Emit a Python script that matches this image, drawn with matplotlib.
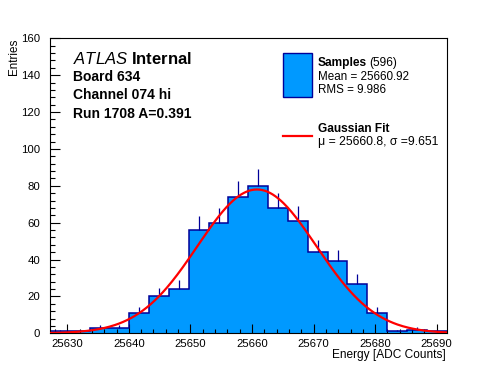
import numpy as np
import matplotlib
matplotlib.use("Agg")
import matplotlib.pyplot as plt
from matplotlib.patches import Rectangle
from matplotlib.lines import Line2D
from matplotlib.ticker import MultipleLocator

plt.rcParams.update({
    "font.family": "Liberation Sans",
    "mathtext.fontset": "custom",
    "mathtext.rm": "Liberation Sans",
    "mathtext.it": "Liberation Sans:italic",
    "mathtext.bf": "Liberation Sans:bold",
})

# ---- datos ----
x_lo, x_hi = 25627.2, 25691.6          # rango del histograma (20 bins)
conteos = [1, 1, 3, 3, 11, 20, 24, 56, 60, 74,
           80, 68, 61, 44, 39, 27, 11, 1, 2, 1]
n_muestras = 596
media, rms = 25660.92, 9.986
mu_fit, sigma_fit, amp_fit = 25660.8, 9.651, 78.0

W, H = 496, 372
def px(x, y):
    return x / W, 1 - y / H

azul = "#0099ff"
azul_osc = "#000099"

fig = plt.figure(figsize=(W / 100, H / 100), dpi=100)
ax = fig.add_axes([50 / W, 1 - 333.3 / H, 396.6 / W, 295 / H])

bordes = np.linspace(x_lo, x_hi, len(conteos) + 1)
centros = 0.5 * (bordes[:-1] + bordes[1:])
conteos = np.array(conteos, dtype=float)

ax.stairs(conteos, bordes, fill=True, color=azul, zorder=1)
ax.vlines(centros, conteos, conteos + np.sqrt(conteos), color=azul_osc,
          linewidth=0.9, zorder=2)
ax.stairs(conteos, bordes, fill=False, color=azul_osc, linewidth=1.1, zorder=2)

xs = np.linspace(x_lo, x_hi, 300)
ax.plot(xs, amp_fit * np.exp(-0.5 * ((xs - mu_fit) / sigma_fit) ** 2),
        color="red", linewidth=1.6, zorder=3)

ax.set_xlim(x_lo, x_hi)
ax.set_ylim(0, 160)
ax.xaxis.set_major_locator(MultipleLocator(10))
ax.xaxis.set_minor_locator(MultipleLocator(2))
ax.yaxis.set_major_locator(MultipleLocator(20))
ax.yaxis.set_minor_locator(MultipleLocator(4))
ax.tick_params(axis="x", which="major", direction="in", length=6.5, width=0.8,
               labelsize=8.2, pad=4)
ax.tick_params(axis="x", which="minor", direction="in", length=3.2, width=0.8)
ax.tick_params(axis="y", which="major", direction="in", length=7.5, width=0.8,
               labelsize=8.2, pad=7)
ax.tick_params(axis="y", which="minor", direction="in", length=3.8, width=0.8)
for s in ax.spines.values():
    s.set_linewidth(0.8)

fig.text(*px(446, 358.3), "Energy [ADC Counts]", ha="right", va="baseline",
         fontsize=8.6)
fig.text(*px(13.5, 38.3), "Entries", rotation=90, ha="center", va="top",
         fontsize=8.4)

# ---- textos ATLAS ----
fig.text(*px(73, 64.3), r"$\mathit{ATLAS}$ $\mathbf{Internal}$", fontsize=12,
         va="baseline")
fig.text(*px(73, 80.7), "Board 634", fontsize=10, fontweight="bold", va="baseline")
fig.text(*px(73, 99.3), "Channel 074 hi", fontsize=10, fontweight="bold",
         va="baseline")
fig.text(*px(73, 118.3), "Run 1708 A=0.391", fontsize=10, fontweight="bold",
         va="baseline")

# ---- leyenda manual ----
x0, y0 = px(283.3, 96.7)
x1, y1 = px(311.7, 53.3)
fig.add_artist(Rectangle((x0, y0), x1 - x0, y1 - y0, transform=fig.transFigure,
                         facecolor=azul, edgecolor=azul_osc, linewidth=1.0))
lx0, ly = px(283, 135.7)
lx1, _ = px(312, 135.7)
fig.add_artist(Line2D([lx0, lx1], [ly, ly], transform=fig.transFigure,
                      color="red", linewidth=1.6))

fig.text(*px(317.7, 66), "Samples", fontsize=8.6, fontweight="bold",
         va="baseline")
fig.text(*px(369, 66), f"({n_muestras})", fontsize=8.6, va="baseline")
fig.text(*px(317.7, 79.5), f"Mean = {media:.2f}", fontsize=8.4, va="baseline")
fig.text(*px(317.7, 93), f"RMS = {rms:.3f}", fontsize=8.4, va="baseline")
fig.text(*px(317.7, 132), "Gaussian Fit", fontsize=8.6, fontweight="bold",
         va="baseline")
fig.text(*px(317.7, 145), f"\u03bc = {mu_fit:.1f}, \u03c3 ={sigma_fit:.3f}",
         fontsize=8.8, va="baseline")

fig.savefig("out.png", dpi=100)
